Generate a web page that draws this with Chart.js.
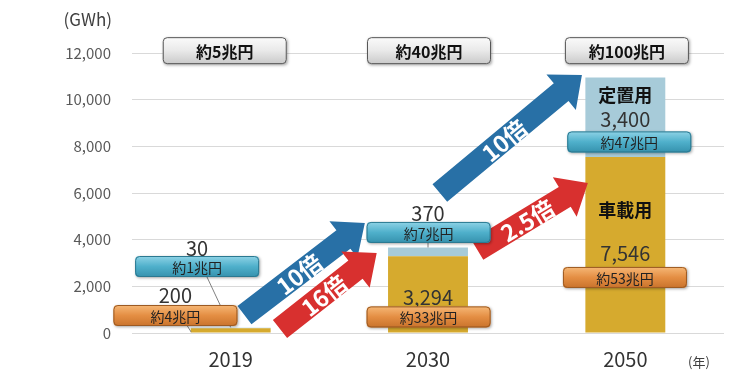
<!DOCTYPE html>
<html>
<head>
<meta charset="utf-8">
<script src="https://cdn.jsdelivr.net/npm/chart.js@4"></script>
<style>
  html, body { margin: 0; padding: 0; background: #ffffff; }
  #wrap { width: 730px; height: 380px; position: relative; }
</style>
</head>
<body>
<div id="wrap"><canvas id="c" width="730" height="380"></canvas></div>
<script>
// ---- data ----
const categories = ['2019', '2030', '2050'];
const vehicleGWh = [200, 3294, 7546];     // 車載用
const stationaryGWh = [30, 370, 3400];    // 定置用
const yTickValues = [0, 2000, 4000, 6000, 8000, 10000, 12000];
const yMax = 12000;

// value labels [category index offset, GWh position, text]
const valueLabels = [
  [-0.17, 3640, '30'],
  [-0.28, 1590, '200'],
  [1.0, 5140, '370'],
  [1.0, 1540, '3,294'],
  [2.0, 9170, '3,400'],
  [2.0, 3430, '7,546']
];
const seriesNames = [
  [2.0, 10200, '定置用'],
  [2.0, 5270, '車載用']
];
// market size boxes [x index, GWh centre, text, style]
const marketBoxes = [
  [-0.03, 12100, '約5兆円', 'gray'],
  [1.005, 12100, '約40兆円', 'gray'],
  [2.008, 12100, '約100兆円', 'gray'],
  [-0.17, 2850, '約1兆円', 'blue'],
  [-0.28, 750, '約4兆円', 'orange'],
  [1.003, 4310, '約7兆円', 'blue'],
  [1.003, 690, '約33兆円', 'orange'],
  [2.02, 8190, '約47兆円', 'blue'],
  [1.998, 2380, '約53兆円', 'orange']
];
// growth arrows [fromX, fromY, toX, toY, colour, text]
const growthArrows = [
  [0.07, 770, 0.68, 4710, 'blue', '10倍'],
  [0.25, 170, 0.74, 3430, 'red', '16倍'],
  [1.06, 6000, 1.78, 11060, 'blue', '10倍'],
  [1.25, 3560, 1.81, 6430, 'red', '2.5倍']
];
const leaderLines = [
  [-0.12, 2400, 0.0, 240],
  [-0.22, 310, -0.2, 40],
  [1.0, 4200, 1.0, 3664]
];

const JP = '"Noto Sans CJK JP", "Noto Sans", sans-serif';

function roundRect(ctx, x, y, w, h, r) {
  ctx.beginPath();
  ctx.moveTo(x + r, y);
  ctx.lineTo(x + w - r, y);
  ctx.quadraticCurveTo(x + w, y, x + w, y + r);
  ctx.lineTo(x + w, y + h - r);
  ctx.quadraticCurveTo(x + w, y + h, x + w - r, y + h);
  ctx.lineTo(x + r, y + h);
  ctx.quadraticCurveTo(x, y + h, x, y + h - r);
  ctx.lineTo(x, y + r);
  ctx.quadraticCurveTo(x, y, x + r, y);
  ctx.closePath();
}

const boxStyles = {
  gray:   { w: 124, h: 27, top: '#fbfbfb', mid: '#e9e9e9', bot: '#c9c9c9', border: '#555555', font: 'bold 16px ' + JP, color: '#111111' },
  blue:   { w: 124, h: 21, top: '#8fd3e6', mid: '#4fb0cb', bot: '#3591ad', border: '#2b7890', font: '14px ' + JP, color: '#222222' },
  orange: { w: 124, h: 21, top: '#f6b877', mid: '#e48e43', bot: '#c9732c', border: '#9c5a22', font: '14px ' + JP, color: '#222222' }
};

const annotatePlugin = {
  id: 'annotate',
  afterDatasetsDraw(chart) {
    const ctx = chart.ctx;
    const xs = chart.scales.x, ys = chart.scales.y;
    const P = (xi, yv) => [xs.getPixelForValue(xi), ys.getPixelForValue(yv)];
    ctx.save();

    // leader lines
    ctx.strokeStyle = '#808080';
    ctx.lineWidth = 1;
    leaderLines.forEach(l => {
      const a = P(l[0], l[1]), b = P(l[2], l[3]);
      ctx.beginPath(); ctx.moveTo(a[0], a[1]); ctx.lineTo(b[0], b[1]); ctx.stroke();
    });

    // arrows
    growthArrows.forEach(ar => {
      const t = P(ar[0], ar[1]), h = P(ar[2], ar[3]);
      const dx = h[0] - t[0], dy = h[1] - t[1];
      const len = Math.hypot(dx, dy);
      const ux = dx / len, uy = dy / len, nx = -uy, ny = ux;
      const sw = 23, hw = 46, hl = 27;
      const bx = h[0] - ux * hl, by = h[1] - uy * hl;
      ctx.beginPath();
      ctx.moveTo(t[0] + nx * sw / 2, t[1] + ny * sw / 2);
      ctx.lineTo(bx + nx * sw / 2, by + ny * sw / 2);
      ctx.lineTo(bx + nx * hw / 2, by + ny * hw / 2);
      ctx.lineTo(h[0], h[1]);
      ctx.lineTo(bx - nx * hw / 2, by - ny * hw / 2);
      ctx.lineTo(bx - nx * sw / 2, by - ny * sw / 2);
      ctx.lineTo(t[0] - nx * sw / 2, t[1] - ny * sw / 2);
      ctx.closePath();
      ctx.fillStyle = ar[4] === 'blue' ? '#2870a6' : '#d8302f';
      ctx.fill();
      // label
      const f = 0.45;
      const lx = t[0] + dx * f, ly = t[1] + dy * f;
      ctx.save();
      ctx.translate(lx, ly);
      ctx.rotate(Math.atan2(dy, dx));
      ctx.fillStyle = '#ffffff';
      ctx.font = 'bold 23px ' + JP;
      ctx.textAlign = 'center';
      ctx.textBaseline = 'middle';
      ctx.fillText(ar[5], 0, 1);
      ctx.restore();
    });

    // value labels
    ctx.textAlign = 'center';
    ctx.textBaseline = 'middle';
    ctx.fillStyle = '#333333';
    ctx.font = '20px ' + JP;
    valueLabels.forEach(v => {
      const p = P(v[0], v[1]);
      ctx.fillText(v[2], p[0], p[1]);
    });
    ctx.fillStyle = '#111111';
    ctx.font = 'bold 18px ' + JP;
    seriesNames.forEach(v => {
      const p = P(v[0], v[1]);
      ctx.fillText(v[2], p[0], p[1]);
    });

    // boxes
    marketBoxes.forEach(b => {
      const st = boxStyles[b[3]];
      const p = P(b[0], b[1]);
      const x = p[0] - st.w / 2, y = p[1] - st.h / 2;
      ctx.save();
      ctx.shadowColor = 'rgba(0,0,0,0.35)';
      ctx.shadowBlur = 3;
      ctx.shadowOffsetX = 1;
      ctx.shadowOffsetY = 1;
      const g = ctx.createLinearGradient(0, y, 0, y + st.h);
      g.addColorStop(0, st.top);
      g.addColorStop(0.5, st.mid);
      g.addColorStop(1, st.bot);
      roundRect(ctx, x, y, st.w, st.h, 4);
      ctx.fillStyle = g;
      ctx.fill();
      ctx.restore();
      roundRect(ctx, x + 0.5, y + 0.5, st.w - 1, st.h - 1, 4);
      ctx.strokeStyle = st.border;
      ctx.lineWidth = 1;
      ctx.stroke();
      ctx.fillStyle = st.color;
      ctx.font = st.font;
      ctx.textAlign = 'center';
      ctx.textBaseline = 'middle';
      ctx.fillText(b[2], p[0], p[1] + 1);
    });

    // axis unit labels
    ctx.fillStyle = '#404040';
    ctx.font = '17px ' + JP;
    ctx.textAlign = 'right';
    ctx.fillText('(GWh)', 112, 20);
    ctx.font = '13px ' + JP;
    ctx.textAlign = 'left';
    ctx.fillText('(年)', 688, 362);
    ctx.restore();
  }
};

new Chart(document.getElementById('c'), {
  type: 'bar',
  data: {
    labels: categories,
    datasets: [
      { label: '車載用', data: vehicleGWh, backgroundColor: '#d6aa2e', borderWidth: 0 },
      { label: '定置用', data: stationaryGWh, backgroundColor: '#a7cbd9', borderWidth: 0 }
    ]
  },
  options: {
    responsive: false,
    animation: false,
    devicePixelRatio: 1,
    layout: { padding: { top: 53, right: 6, left: 0, bottom: 0 } },
    plugins: { legend: { display: false }, tooltip: { enabled: false } },
    datasets: { bar: { categoryPercentage: 1.0, barPercentage: 0.405 } },
    scales: {
      x: {
        stacked: true,
        grid: { display: false, drawTicks: false },
        border: { display: false },
        ticks: { color: '#333333', font: { size: 20, family: JP }, padding: 14 },
        afterFit(s) { s.height = 47; s.paddingLeft = 0; s.paddingRight = 0; }
      },
      y: {
        stacked: true,
        min: 0,
        max: yMax,
        afterBuildTicks(s) { s.ticks = yTickValues.map(v => ({ value: v })); },
        grid: { color: '#d9d9d9', lineWidth: 1, drawTicks: false },
        border: { display: false },
        ticks: {
          color: '#595959',
          font: { size: 15, family: JP },
          padding: 21,
          callback: v => Number(v).toLocaleString('en-US')
        },
        afterFit(s) { s.width = 132; s.paddingTop = 0; s.paddingBottom = 0; }
      }
    }
  },
  plugins: [annotatePlugin]
});
</script>
</body>
</html>
